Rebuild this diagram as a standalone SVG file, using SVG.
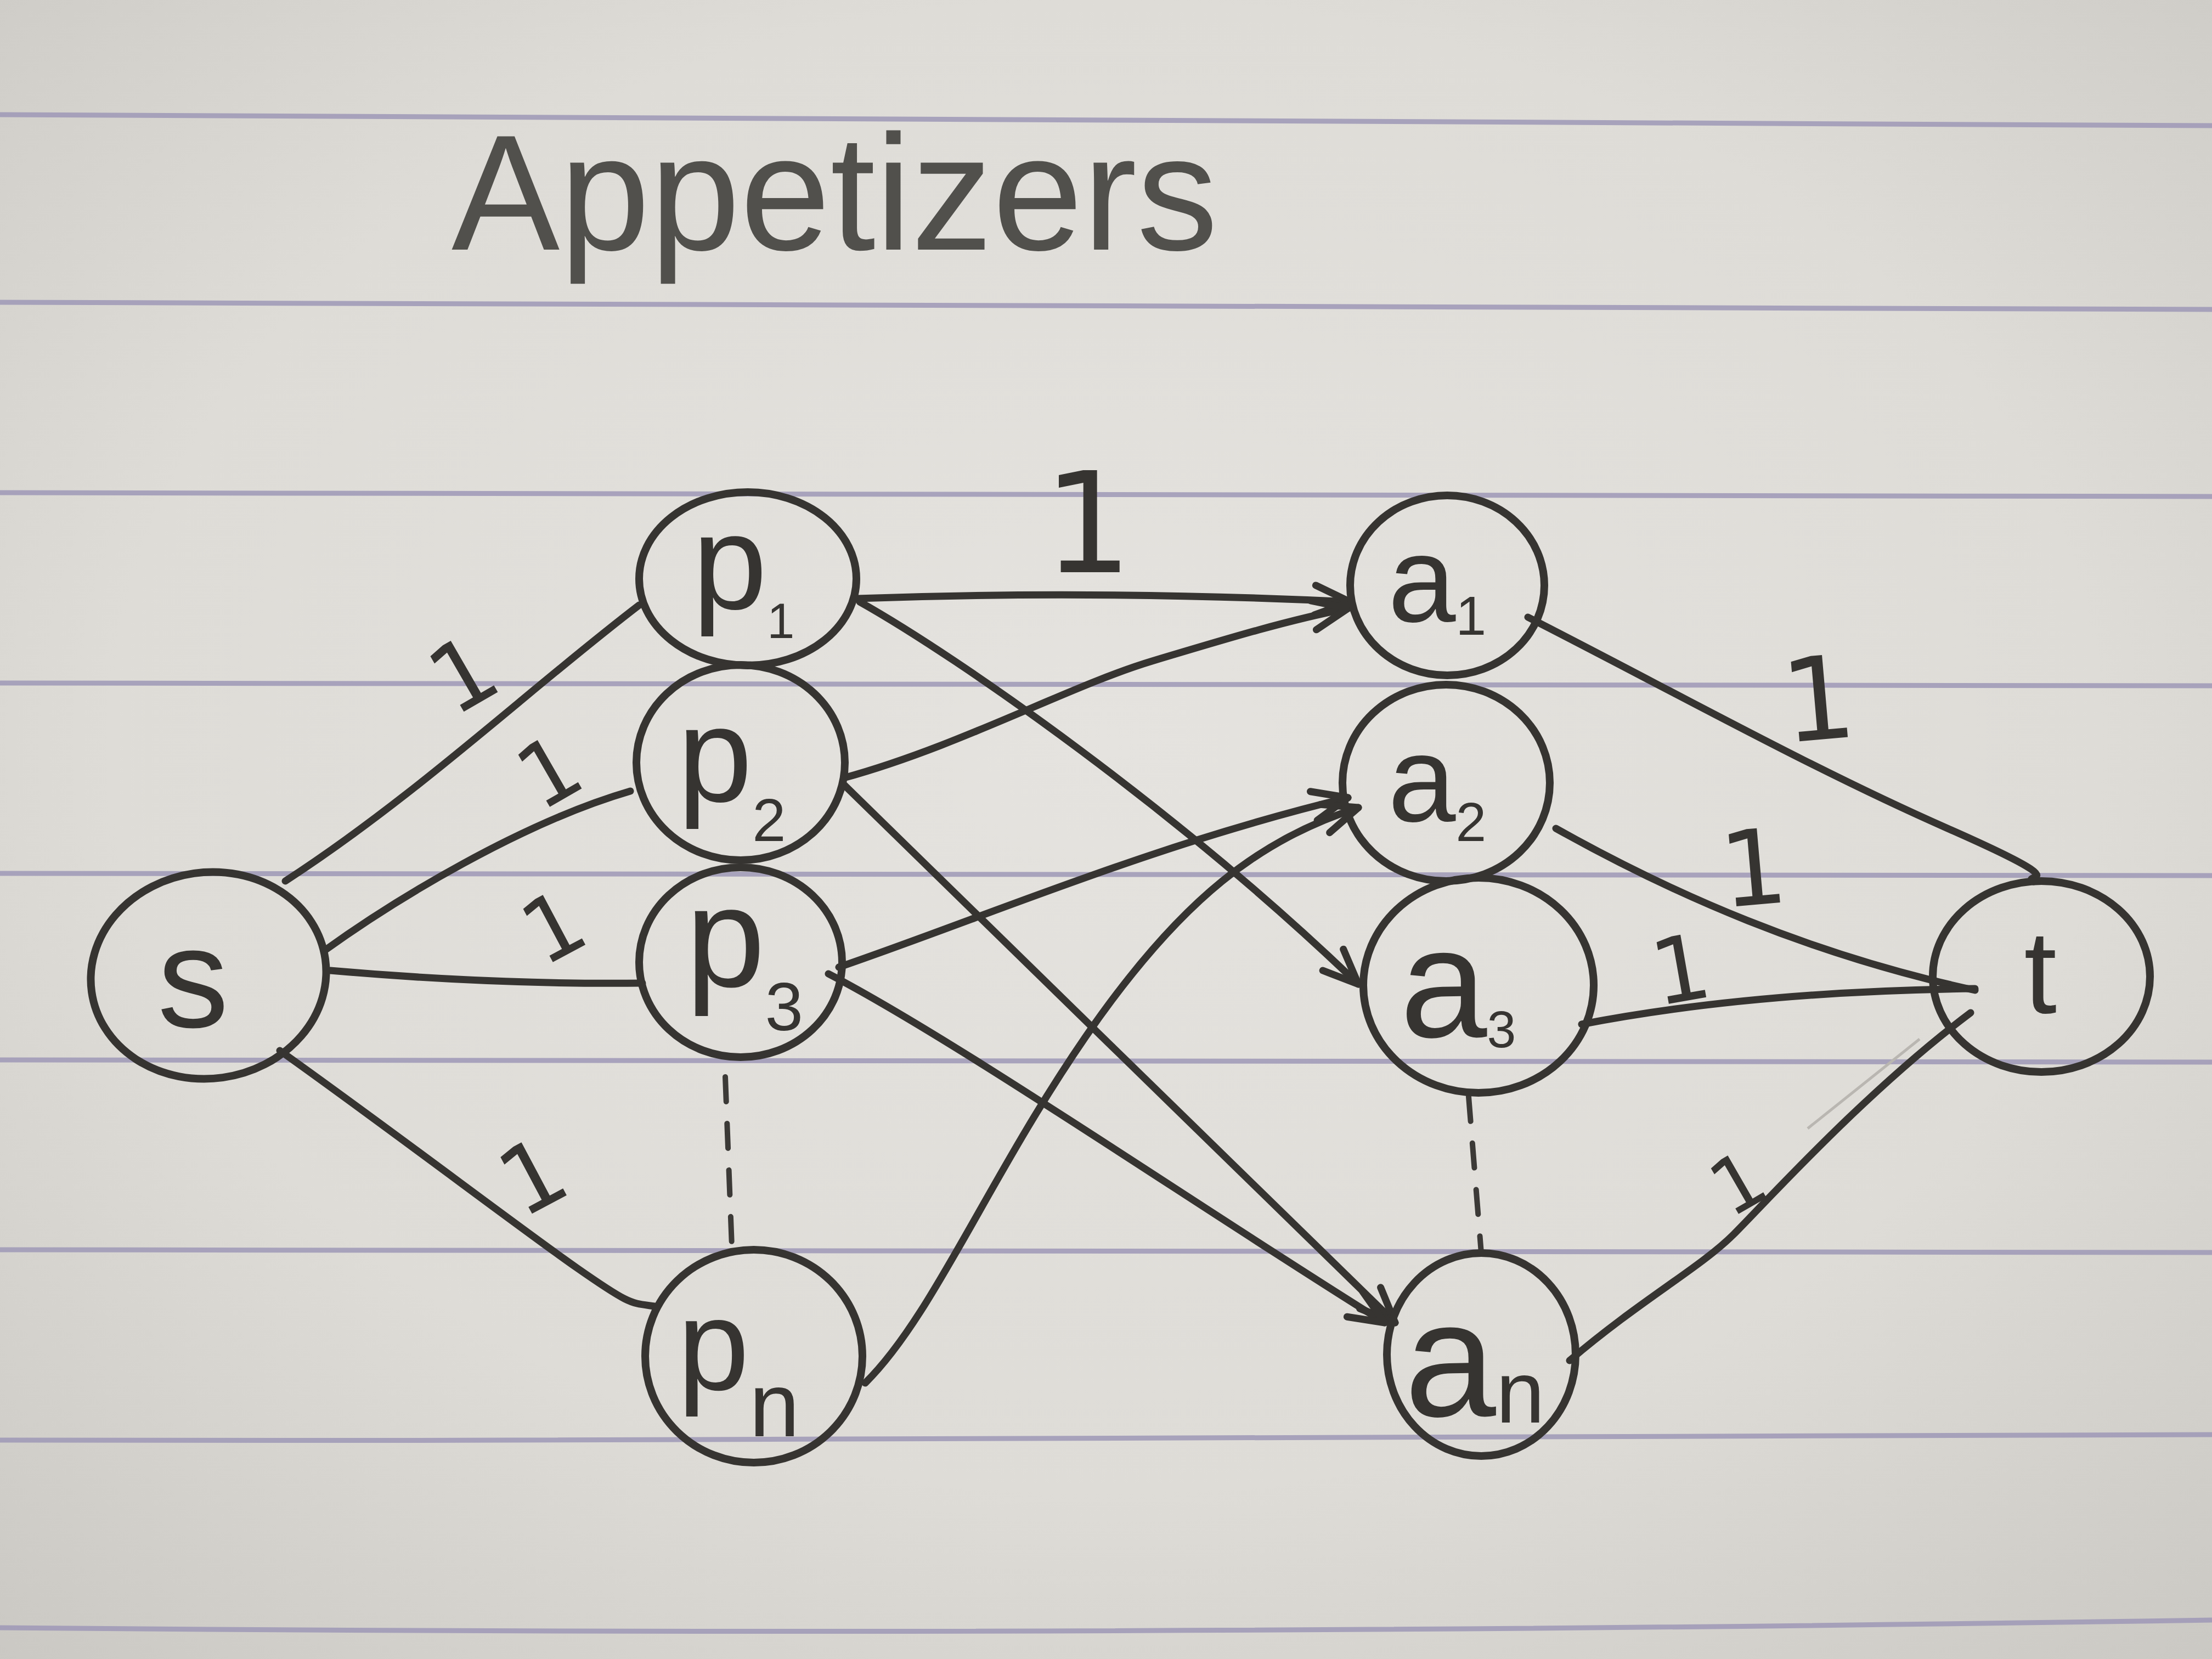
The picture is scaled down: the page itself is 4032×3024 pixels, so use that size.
<svg xmlns="http://www.w3.org/2000/svg" width="4032" height="3024" viewBox="0 0 4032 3024">
  <defs>
    <radialGradient id="paper" cx="50%" cy="45%" r="75%">
      <stop offset="0" stop-color="#e5e3df"/>
      <stop offset="0.6" stop-color="#dedcd7"/>
      <stop offset="1" stop-color="#cac8c3"/>
    </radialGradient>
    <marker id="arrow" markerUnits="userSpaceOnUse" markerWidth="90" markerHeight="90" viewBox="0 0 90 90" refX="78" refY="45" orient="auto">
      <path d="M14,18 L78,45 L14,72" fill="none" stroke="#363431" stroke-width="13" stroke-linecap="round" stroke-linejoin="round"/>
    </marker>
  </defs>
  <style>
    .rule { fill: none; stroke: #9d98b6; stroke-width: 9; opacity: 0.85; }
    .node { fill: none; stroke: #363431; stroke-width: 14; }
    .edge { fill: none; stroke: #363431; stroke-width: 13; stroke-linecap: round; }
    .dash { fill: none; stroke: #3c3a37; stroke-width: 10; stroke-dasharray: 45 40; stroke-linecap: round; }
    .lbl { font-family: "Liberation Sans", "DejaVu Sans", sans-serif; fill: #363431; }
    .num { font-family: "DejaVu Sans", sans-serif; fill: #363431; text-anchor: middle; }
    .title { font-family: "Liberation Sans", sans-serif; fill: #51504c; font-size: 300px; }
  </style>

  <rect x="0" y="0" width="4032" height="3024" fill="url(#paper)"/>

  <g id="ruled-lines">
    <path class="rule" d="M0,209 Q2016,214 4032,229"/>
    <path class="rule" d="M0,551 Q2016,552 4032,564"/>
    <path class="rule" d="M0,898 Q2016,900 4032,905"/>
    <path class="rule" d="M0,1245 Q2016,1247 4032,1250"/>
    <path class="rule" d="M0,1592 Q2016,1594 4032,1596"/>
    <path class="rule" d="M0,1932 Q2016,1934 4032,1936"/>
    <path class="rule" d="M0,2278 Q2016,2281 4032,2283"/>
    <path class="rule" d="M0,2625 Q2016,2628 4032,2615"/>
    <path class="rule" d="M0,2967 Q2016,2985 4032,2953"/>
  </g>

  <text id="title" class="title" x="823" y="455" textLength="1397" lengthAdjust="spacingAndGlyphs">Appetizers</text>

  <g id="connectors">
    <path class="edge" d="M520,1606 C760,1450 960,1260 1165,1103"/>
    <path class="edge" d="M591,1733 C720,1640 950,1500 1149,1442"/>
    <path class="edge" d="M602,1769 Q900,1795 1171,1792"/>
    <path class="edge" d="M510,1915 C700,2050 950,2240 1050,2310 S1150,2375 1193,2381"/>

    <path class="edge" marker-end="url(#arrow)" d="M1562,1091 Q2000,1075 2461,1097"/>
    <path class="edge" marker-end="url(#arrow)" d="M1567,1097 C1750,1200 2150,1480 2476,1794"/>
    <path class="edge" marker-end="url(#arrow)" d="M1538,1418 C1750,1360 1950,1250 2100,1205 S2350,1130 2457,1109"/>
    <path class="edge" marker-end="url(#arrow)" d="M1538,1430 C1800,1690 2300,2170 2543,2411"/>
    <path class="edge" marker-end="url(#arrow)" d="M1529,1763 C1800,1670 2100,1540 2457,1454"/>
    <path class="edge" marker-end="url(#arrow)" d="M1510,1775 C1750,1900 2200,2210 2524,2411"/>
    <path class="edge" marker-end="url(#arrow)" d="M1577,2521 C1700,2400 1800,2150 1978,1891 S2300,1530 2476,1472"/>

    <path class="edge" d="M2785,1125 C3050,1260 3300,1400 3550,1510 S3680,1590 3707,1607"/>
    <path class="edge" d="M2836,1510 C3050,1630 3300,1740 3600,1805"/>
    <path class="edge" d="M2883,1867 C3100,1825 3350,1805 3600,1802"/>
    <path class="edge" d="M2861,2480 C2990,2370 3100,2310 3160,2250 S3400,1990 3592,1846"/>
    <path d="M3295,2057 L3499,1894" fill="none" stroke="#b9b6b1" stroke-width="5"/>

    <path class="dash" d="M1322,1963 L1334,2272"/>
    <path class="dash" d="M2677,1999 L2700,2284"/>

    <text class="num" font-size="170" x="843" y="1289" transform="rotate(-30 843 1227)">1</text>
    <text class="num" font-size="160" x="1000" y="1463" transform="rotate(-30 1000 1405)">1</text>
    <text class="num" font-size="160" x="1008" y="1746" transform="rotate(-28 1008 1688)">1</text>
    <text class="num" font-size="170" x="970" y="2204" transform="rotate(-28 970 2142)">1</text>
    <text class="num" font-size="255" x="1983" y="1043">1</text>
    <text class="num" font-size="210" x="3314" y="1348" transform="rotate(-5 3314 1271)">1</text>
    <text class="num" font-size="190" x="3196" y="1649" transform="rotate(-5 3196 1580)">1</text>
    <text class="num" font-size="165" x="3063" y="1825" transform="rotate(-10 3063 1765)">1</text>
    <text class="num" font-size="140" x="3167" y="2206" transform="rotate(-30 3167 2155)">1</text>
  </g>

  <g id="node-s">
    <ellipse class="node" cx="380" cy="1778" rx="215" ry="188" transform="rotate(-8 380 1778)"/>
    <text class="lbl" font-size="260" x="352" y="1872" text-anchor="middle">s</text>
  </g>
  <g id="node-p1">
    <ellipse class="node" cx="1363" cy="1055" rx="198" ry="158"/>
    <text class="lbl" font-size="245" x="1262" y="1109">p<tspan font-size="90" dy="54">1</tspan></text>
  </g>
  <g id="node-p2">
    <ellipse class="node" cx="1350" cy="1390" rx="190" ry="178"/>
    <text class="lbl" font-size="245" x="1235" y="1460">p<tspan font-size="110" dy="73">2</tspan></text>
  </g>
  <g id="node-p3">
    <ellipse class="node" cx="1350" cy="1754" rx="185" ry="173"/>
    <text class="lbl" font-size="260" x="1250" y="1798">p<tspan font-size="125" dy="80">3</tspan></text>
  </g>
  <g id="node-pn">
    <ellipse class="node" cx="1374" cy="2472" rx="198" ry="194"/>
    <text class="lbl" font-size="235" x="1235" y="2533">p<tspan font-size="165" dy="85">n</tspan></text>
  </g>
  <g id="node-a1">
    <ellipse class="node" cx="2638" cy="1067" rx="177" ry="164"/>
    <text class="lbl" font-size="222" x="2530" y="1133">a<tspan font-size="100" dy="24">1</tspan></text>
  </g>
  <g id="node-a2">
    <ellipse class="node" cx="2636" cy="1427" rx="189" ry="179"/>
    <text class="lbl" font-size="222" x="2530" y="1497">a<tspan font-size="100" dy="36">2</tspan></text>
  </g>
  <g id="node-a3">
    <ellipse class="node" cx="2695" cy="1796" rx="210" ry="196"/>
    <text class="lbl" font-size="285" x="2552" y="1890">a<tspan font-size="95" dy="19">3</tspan></text>
  </g>
  <g id="node-an">
    <ellipse class="node" cx="2700" cy="2469" rx="172" ry="185"/>
    <text class="lbl" font-size="300" x="2560" y="2581">a<tspan font-size="160" dy="12">n</tspan></text>
  </g>
  <g id="node-t">
    <ellipse class="node" cx="3721" cy="1780" rx="198" ry="174"/>
    <text class="lbl" font-size="215" x="3719" y="1846" text-anchor="middle">t</text>
  </g>
</svg>
